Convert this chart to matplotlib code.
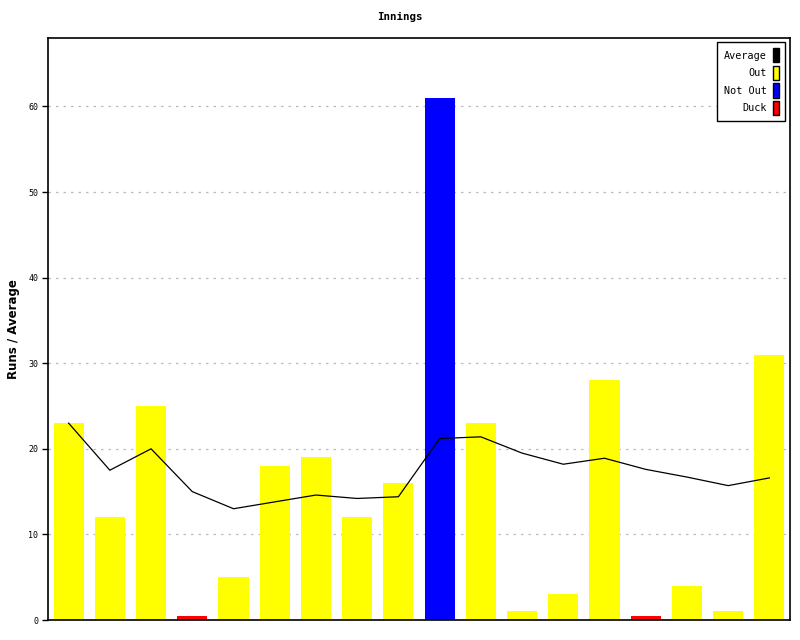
import matplotlib.pyplot as plt
from matplotlib.patches import Patch

# innings data
runs = [23, 12, 25, 0.5, 5, 18, 19, 12, 16, 61, 23, 1, 3, 28, 0.5, 4, 1, 31]
status = ['out', 'out', 'out', 'duck', 'out', 'out', 'out', 'out', 'out',
          'notout', 'out', 'out', 'out', 'out', 'duck', 'out', 'out', 'out']
average = [23, 17.5, 20, 15, 13, 13.8, 14.6, 14.2, 14.4, 21.2, 21.4, 19.5,
           18.2, 18.9, 17.6, 16.7, 15.7, 16.6]

colours = {'out': '#ffff00', 'notout': '#0000ff', 'duck': '#ff0000'}
mono = 'DejaVu Sans Mono'

fig = plt.figure(figsize=(8, 6.4), dpi=100)
ax = fig.add_axes([0.06, 0.03125, 0.9275, 0.9094])

x = list(range(len(runs)))
ax.bar(x, runs, width=0.73, color=[colours[s] for s in status], zorder=2)
ax.plot(x, average, color='black', linewidth=0.9, zorder=3)

ax.set_xlim(-0.5, len(runs) - 0.5)
ax.set_ylim(0, 68)
ax.set_yticks(range(0, 70, 10))
ax.set_xticks([])
ax.yaxis.grid(True, linestyle=(0, (2, 4)), color='#bbbbbb', linewidth=0.9, zorder=0)
ax.tick_params(axis='y', direction='out', length=4, width=1, labelsize=6, pad=3)
for lab in ax.get_yticklabels():
    lab.set_family(mono)
for sp in ax.spines.values():
    sp.set_linewidth(1.2)
    sp.set_color('black')

fig.text(14 / 800, 0.486, 'Runs / Average', rotation=90, ha='center', va='center',
         fontsize=8.5, fontweight='bold')
fig.text(0.5, 0.973, 'Innings', ha='center', va='center', fontsize=7.8,
         fontweight='bold', family=mono)

handles = [Patch(facecolor='black', edgecolor='black'),
           Patch(facecolor='#ffff00', edgecolor='black'),
           Patch(facecolor='#0000ff', edgecolor='black'),
           Patch(facecolor='#ff0000', edgecolor='black')]
leg = ax.legend(handles, ['Average', 'Out', 'Not Out', 'Duck'],
                loc='upper right', bbox_to_anchor=(0.9935, 0.993),
                markerfirst=False, handlelength=0.65, handleheight=1.8,
                handletextpad=0.6, labelspacing=0.32, borderpad=0.6,
                borderaxespad=0, fancybox=False, framealpha=1, edgecolor='black',
                prop={'family': mono, 'size': 7.3})
leg.get_frame().set_linewidth(1)

fig.savefig('out.png', dpi=100)
